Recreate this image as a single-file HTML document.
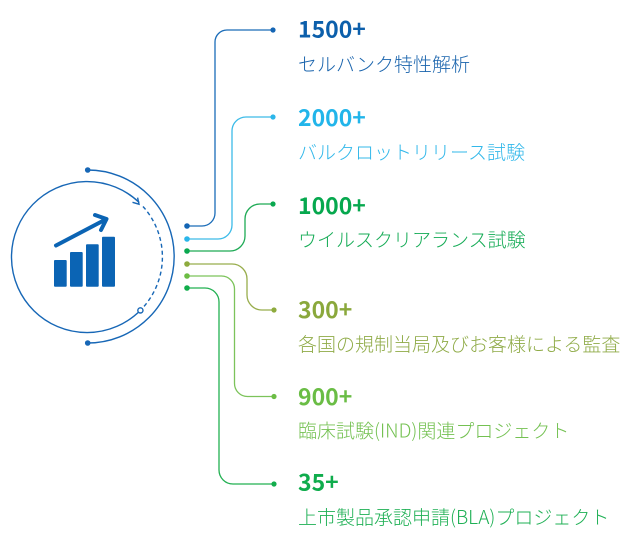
<!DOCTYPE html>
<html>
<head>
<meta charset="utf-8">
<style>
  html, body { margin: 0; padding: 0; background: #ffffff; }
  body { width: 632px; height: 541px; overflow: hidden; }
  svg { display: block; }
  .num { font-family: "Noto Sans CJK JP", "Liberation Sans", sans-serif; font-weight: 700; font-size: 23px; }
  .sub { font-family: "Noto Sans CJK JP", "Liberation Sans", sans-serif; font-weight: 300; font-size: 19px; }
</style>
</head>
<body>
<svg width="632" height="541" viewBox="0 0 632 541" xmlns="http://www.w3.org/2000/svg">
  <!-- Outer arc -->
  <path d="M87.7,170 A86.5,86.5 0 0 1 87.7,343" fill="none" stroke="#1767b6" stroke-width="1.4"/>
  <circle cx="87.7" cy="170" r="2.8" fill="#1767b6"/>
  <circle cx="87.7" cy="343" r="2.8" fill="#1767b6"/>

  <!-- Inner circle solid part -->
  <path d="M140.4,310.4 A75.5,75.5 0 1 1 139.2,202.5" fill="none" stroke="#1767b6" stroke-width="1.4"/>
  <!-- arrowhead chevron -->
  <path d="M132.5,202.3 L139,204.2 L137.6,197.6" fill="none" stroke="#1767b6" stroke-width="1.4" stroke-linejoin="miter"/>
  <!-- dashed part -->
  <path d="M143,206.5 A75.5,75.5 0 0 1 143.5,307" fill="none" stroke="#1767b6" stroke-width="1.4" stroke-dasharray="4 3"/>
  <circle cx="140.4" cy="310.4" r="2.6" fill="#ffffff" stroke="#1767b6" stroke-width="1.4"/>

  <!-- Icon bars -->
  <rect x="54" y="260" width="12.7" height="26.7" rx="1" fill="#0b64b4"/>
  <rect x="70" y="252" width="12.7" height="34.7" rx="1" fill="#0b64b4"/>
  <rect x="86" y="244.3" width="12.7" height="42.4" rx="1" fill="#0b64b4"/>
  <rect x="102" y="236.7" width="13" height="50" rx="1" fill="#0b64b4"/>
  <!-- Icon arrow -->
  <line x1="56" y1="245.5" x2="105.5" y2="219.5" stroke="#0b64b4" stroke-width="4" stroke-linecap="round"/>
  <path d="M95,215 L106.5,219 L101,230" fill="none" stroke="#0b64b4" stroke-width="4" stroke-linecap="round" stroke-linejoin="round"/>

  <!-- Connector lines -->
  <g fill="none" stroke-width="1.3">
    <path d="M187,226 H202 A13,13 0 0 0 215,213 V42 A12,12 0 0 1 227,30 H273" stroke="#1a6cb8"/>
    <path d="M187,239 H218 A14,14 0 0 0 232,225 V131 A14,14 0 0 1 246,117 H273" stroke="#3cbbe8"/>
    <path d="M187,251 H230 A15,15 0 0 0 245,236 V219 A15,15 0 0 1 260,204 H273" stroke="#1eaa55"/>
    <path d="M187,264 H232 A15,15 0 0 1 247,279 V295 A15,15 0 0 0 262,310 H274" stroke="#98ad4c"/>
    <path d="M187,276 H221.5 A13,13 0 0 1 234.5,289 V383.5 A13,13 0 0 0 247.5,396.5 H274" stroke="#7cc35a"/>
    <path d="M187,288 H205 A14,14 0 0 1 219,302 V470 A14,14 0 0 0 233,484 H274" stroke="#22b052"/>
  </g>

  <!-- Left dots -->
  <circle cx="187" cy="226" r="2.8" fill="#1465b4"/>
  <circle cx="187" cy="239" r="2.8" fill="#2bb6ea"/>
  <circle cx="187" cy="251" r="2.8" fill="#0aa84f"/>
  <circle cx="187" cy="264" r="2.8" fill="#8eab3e"/>
  <circle cx="187" cy="276" r="2.8" fill="#6cbd45"/>
  <circle cx="187" cy="288" r="2.8" fill="#12ad4c"/>

  <!-- Right dots -->
  <circle cx="273" cy="30" r="2.6" fill="#1465b4"/>
  <circle cx="273" cy="117" r="2.6" fill="#2bb6ea"/>
  <circle cx="273" cy="204" r="2.6" fill="#0aa84f"/>
  <circle cx="274" cy="310" r="2.6" fill="#8eab3e"/>
  <circle cx="274" cy="396.5" r="2.6" fill="#6cbd45"/>
  <circle cx="274" cy="484" r="2.6" fill="#12ad4c"/>

  <!-- Texts -->
  <text x="298" y="37.5" class="num" fill="#0c5fab">1500+</text>
  <text x="298" y="71" class="sub" fill="#1a64ad">セルバンク特性解析</text>

  <text x="298" y="126" class="num" fill="#22b5ea">2000+</text>
  <text x="298" y="159" class="sub" fill="#33b8ea">バルクロットリリース試験</text>

  <text x="298" y="214" class="num" fill="#06a84e">1000+</text>
  <text x="298" y="246.5" class="sub" fill="#14ab55">ウイルスクリアランス試験</text>

  <text x="298" y="318" class="num" fill="#8aa83c">300+</text>
  <text x="298" y="351" class="sub" fill="#8fab47">各国の規制当局及びお客様による監査</text>

  <text x="298" y="405" class="num" fill="#6abd45">900+</text>
  <text x="298" y="437.5" class="sub" fill="#74c152">臨床試験(IND)関連プロジェクト</text>

  <text x="298" y="490.5" class="num" fill="#0fac4c">35+</text>
  <text x="298" y="524" class="sub" fill="#1fb055">上市製品承認申請(BLA)プロジェクト</text>
</svg>
</body>
</html>
